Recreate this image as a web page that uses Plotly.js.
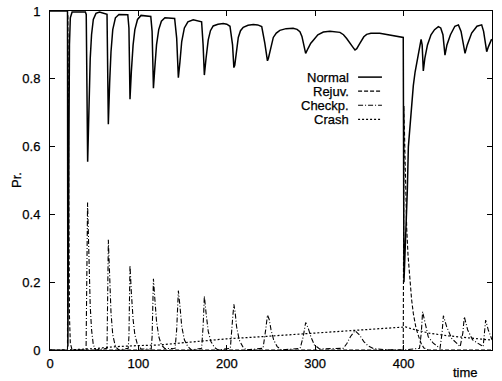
<!DOCTYPE html>
<html>
<head>
<meta charset="utf-8">
<script src="https://cdn.plot.ly/plotly-3.0.1.min.js"></script>
<style>
html,body{margin:0;padding:0;background:#fff;}
#chart{width:502px;height:381px;}
#chart svg text{stroke:#000;stroke-width:0.25px;}
</style>
</head>
<body>
<div id="chart"></div>
<script>
// ---- data ----
var tNormal = [0, 19.8, 20.2, 21, 22, 23, 25,
  40, 41, 42.6, 44, 45.5, 47, 49, 52, 56,
  64.5, 66, 67.5, 69, 71, 74, 78,
  88, 89.3, 90.5, 92, 94, 96, 99, 103,
  114, 115.5, 117, 118.5, 120.5, 123, 126, 130,
  141, 143.3, 145.2, 147, 149, 152, 156, 162,
  171.5, 173.2, 174.6, 176.5, 179, 181.5, 184.6, 190, 196, 200,
  203.6, 206.5, 208, 209, 211, 213, 215.5, 218.6, 224, 230, 235,
  239.5, 243, 246, 247, 249, 252.6, 256, 260, 267, 275, 279.5,
  282.7, 285, 286.5, 289.2, 292, 295, 297.9, 303, 309.2, 316.7, 328, 332,
  335.6, 340, 343, 345, 347, 350, 352.6, 355, 358.2, 363, 373, 385, 399.6,
  400.4, 402, 403, 404.2, 405.4, 407.2, 409.2, 411, 413, 415.5, 418, 419.8,
  421, 422.3, 424, 427, 431, 435, 439.3, 442,
  444.5, 446.8, 449, 453, 458, 462,
  465, 467.5, 469.5, 472, 477, 483, 488.3,
  490.5, 492.5, 494, 496, 499.6];
var vNormal = [1, 1, 0.01, 0.5, 0.9, 0.98, 0.997,
  0.997, 0.99, 0.555, 0.72, 0.86, 0.93, 0.975, 0.993, 0.997,
  0.99, 0.666, 0.79, 0.88, 0.945, 0.98, 0.99,
  0.989, 0.95, 0.74, 0.82, 0.9, 0.945, 0.975, 0.987,
  0.984, 0.94, 0.772, 0.83, 0.9, 0.945, 0.97, 0.98,
  0.978, 0.92, 0.803, 0.85, 0.91, 0.95, 0.968, 0.974,
  0.968, 0.9, 0.811, 0.86, 0.915, 0.942, 0.956, 0.961, 0.963, 0.961,
  0.955, 0.9, 0.833, 0.84, 0.89, 0.922, 0.942, 0.952, 0.958, 0.96, 0.959,
  0.954, 0.905, 0.853, 0.86, 0.885, 0.922, 0.935, 0.943, 0.948, 0.949, 0.946,
  0.939, 0.925, 0.905, 0.875, 0.89, 0.905, 0.914, 0.93, 0.938, 0.94, 0.937, 0.93,
  0.919, 0.905, 0.892, 0.885, 0.889, 0.902, 0.914, 0.924, 0.931, 0.934, 0.934, 0.929, 0.922,
  0.2, 0.3, 0.4, 0.47, 0.6, 0.66, 0.74, 0.78, 0.82, 0.855, 0.895, 0.916,
  0.9, 0.823, 0.86, 0.9, 0.93, 0.945, 0.954, 0.95,
  0.93, 0.87, 0.9, 0.93, 0.955, 0.959,
  0.94, 0.9, 0.875, 0.9, 0.935, 0.955, 0.959,
  0.94, 0.9, 0.88, 0.895, 0.917];

var tRejuv = [0, 19.8, 20.2, 21, 22, 23, 25,
  399.6, 400.4, 401.5, 402.5, 403.5, 405, 407.2, 409, 411, 414, 417, 420, 423, 428, 500];
var vRejuv = [0, 0, 0.99, 0.5, 0.1, 0.02, 0,
  0, 0.72, 0.58, 0.45, 0.36, 0.28, 0.206, 0.15, 0.108, 0.065, 0.04, 0.018, 0.006, 0, 0];

var tCheck = [0, 40.8, 42.5, 44, 45.5, 47, 49, 52,
  64.5, 66, 67.5, 69, 71, 74, 78,
  88.5, 89.3, 90.5, 92, 94, 96, 99, 103,
  114.5, 115.5, 117, 118.5, 120.5, 123, 126, 130,
  141.5, 143.3, 145.2, 147, 149, 152, 156, 160,
  171.5, 173.2, 174.6, 176.5, 179, 182, 186, 190,
  204, 206.5, 208, 209.5, 211, 214, 218, 222,
  241, 244, 246, 248, 250, 253, 257, 262,
  283, 286.5, 289.2, 292, 295, 299, 305,
  332, 336, 340, 345, 350, 355, 360, 366, 380, 400,
  418, 420, 421.5, 424.3, 427.9, 433.6,
  441.2, 443.5, 445, 448.7, 454.4, 460,
  464, 467, 468.7, 472.5, 478,
  490, 491.5, 492.8, 495.8, 499.6, 500];
var vCheck = [0, 0, 0.435, 0.26, 0.13, 0.06, 0.015, 0,
  0.005, 0.325, 0.2, 0.11, 0.045, 0.01, 0,
  0.005, 0.04, 0.25, 0.17, 0.09, 0.045, 0.015, 0.003,
  0.003, 0.04, 0.21, 0.155, 0.085, 0.04, 0.015, 0.004,
  0.005, 0.06, 0.175, 0.13, 0.07, 0.03, 0.01, 0,
  0.005, 0.07, 0.159, 0.11, 0.055, 0.025, 0.008, 0,
  0.005, 0.09, 0.135, 0.11, 0.07, 0.03, 0.01, 0,
  0.005, 0.06, 0.103, 0.09, 0.06, 0.03, 0.01, 0,
  0.005, 0.04, 0.081, 0.065, 0.04, 0.015, 0.003,
  0.005, 0.02, 0.04, 0.057, 0.045, 0.025, 0.012, 0.004, 0.001, 0,
  0.005, 0.05, 0.113, 0.079, 0.039, 0.02,
  0.005, 0.05, 0.101, 0.069, 0.034, 0.02,
  0.01, 0.05, 0.098, 0.059, 0.03,
  0.01, 0.05, 0.088, 0.059, 0.03, 0.03];

var tCrash = [0, 20, 50, 75, 100, 124, 166, 200, 237.6, 280, 316.7, 360, 399.6, 402, 410, 430, 450, 470, 500];
var vCrash = [0, 0, 0.004, 0.01, 0.013, 0.015, 0.025, 0.033, 0.039, 0.047, 0.054, 0.062, 0.069, 0.068, 0.062, 0.049, 0.042, 0.036, 0.029];

var seriesNames = ["Normal", "Rejuv.", "Checkp.", "Crash"];
var xTickVals = [0, 100, 200, 300, 400, 500];
var yTickVals = [0, 0.2, 0.4, 0.6, 0.8, 1];
var yTickText = ["0", "0.2", "0.4", "0.6", "0.8", "1"];

// ---- styling ----
var dashes = ["solid", "4px,2px", "5px,2px,1px,2px", "2px,2px"];
var widths = [1.5, 1.1, 1.1, 1.2];
var xs = [tNormal, tRejuv, tCheck, tCrash];
var ys = [vNormal, vRejuv, vCheck, vCrash];

var traces = seriesNames.map(function (n, i) {
  return {
    x: xs[i], y: ys[i], name: n, type: "scatter", mode: "lines",
    line: {color: "#000", width: widths[i], dash: dashes[i]},
    showlegend: false, hoverinfo: "skip", cliponaxis: true
  };
});

var FONT = "Liberation Sans, Arial, Helvetica, sans-serif";

// gnuplot style key: label at left, line sample on the right
var keyTextX = 0.679, keyLineX0 = 0.697, keyLineX1 = 0.751;
var keyY0 = 0.805, keyStep = 0.0415;
var annotations = [];
var shapes = [];
seriesNames.forEach(function (n, i) {
  var yy = keyY0 - i * keyStep;
  annotations.push({
    xref: "paper", yref: "paper", x: keyTextX, y: yy, text: n,
    showarrow: false, xanchor: "right", yanchor: "middle",
    borderpad: 0,
    font: {family: FONT, size: 13, color: "#000"}
  });
  shapes.push({
    type: "line", xref: "paper", yref: "paper",
    x0: keyLineX0, x1: keyLineX1, y0: yy, y1: yy,
    line: {color: "#000", width: widths[i], dash: dashes[i]}
  });
});
annotations.push({
  xref: "paper", yref: "paper", x: -0.0747, y: 0.5015, text: "Pr.",
  textangle: -90, showarrow: false, xanchor: "center", yanchor: "middle",
  font: {family: FONT, size: 13, color: "#000"}
});
annotations.push({
  xref: "paper", yref: "paper", x: 0.939, y: -0.065, text: "time",
  showarrow: false, xanchor: "center", yanchor: "middle",
  font: {family: FONT, size: 13, color: "#000"}
});

var layout = {
  width: 502, height: 381,
  margin: {l: 50, r: 10, t: 11, b: 31, pad: 0},
  paper_bgcolor: "#fff", plot_bgcolor: "#fff",
  font: {family: FONT, size: 13, color: "#000"},
  xaxis: {
    range: [0, 500], tickvals: xTickVals, ticktext: xTickVals.map(String),
    ticks: "inside", ticklen: 5, tickwidth: 1, tickcolor: "#000",
    showline: true, linecolor: "#000", linewidth: 1, mirror: "ticks",
    showgrid: false, zeroline: false, ticklabelstandoff: 1,
    tickfont: {family: FONT, size: 13, color: "#000"}
  },
  yaxis: {
    range: [0, 1], tickvals: yTickVals, ticktext: yTickText,
    ticks: "inside", ticklen: 5, tickwidth: 1, tickcolor: "#000",
    showline: true, linecolor: "#000", linewidth: 1, mirror: "ticks",
    showgrid: false, zeroline: false, ticklabelstandoff: 6,
    tickfont: {family: FONT, size: 13, color: "#000"}
  },
  annotations: annotations,
  shapes: shapes,
  showlegend: false
};

Plotly.newPlot("chart", traces, layout, {staticPlot: true, displayModeBar: false});
</script>
</body>
</html>
